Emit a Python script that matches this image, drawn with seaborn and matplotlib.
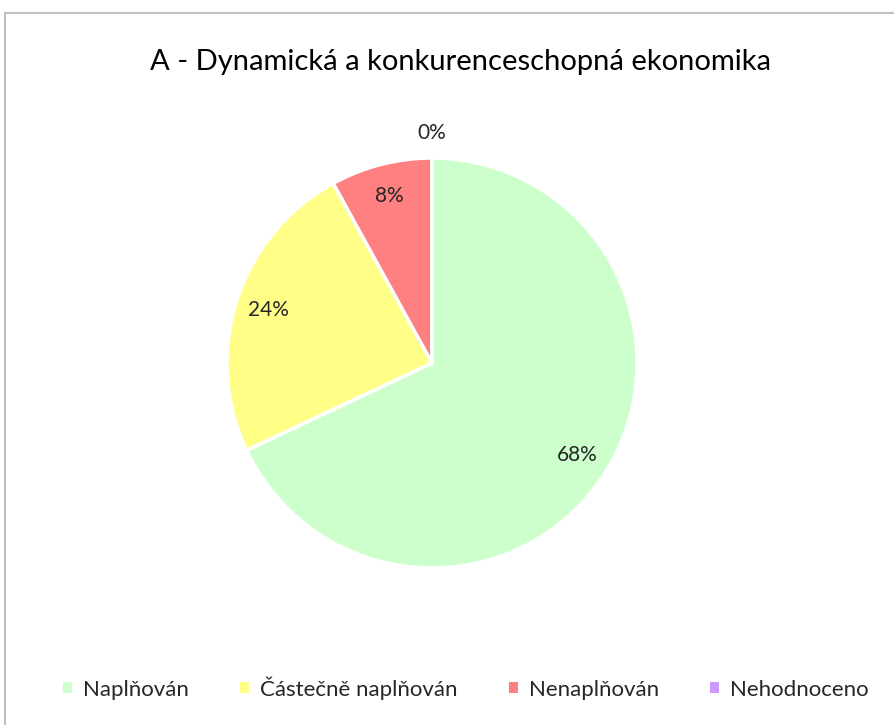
import matplotlib
matplotlib.use("Agg")
import matplotlib.pyplot as plt
import seaborn as sns
from matplotlib.patches import Rectangle
import numpy as np

categories = ["Naplňován", "Částečně naplňován", "Nenaplňován", "Nehodnoceno"]
values = [68, 24, 8, 0]
colors = ["#ccffcc", "#ffff88", "#ff8080", "#cc99ff"]
title = "A - Dynamická a konkurenceschopná ekonomika"

sns.set_theme(style="white")
plt.rcParams["font.family"] = ["Lato", "DejaVu Sans"]

W, H = 894, 725
fig = plt.figure(figsize=(W / 100, H / 100), dpi=100)
fig.patch.set_facecolor("white")

# chart border
fig.add_artist(Rectangle((4.5 / W, -0.1), 1.2, (H - 12.5) / H + 0.1,
                         transform=fig.transFigure, fill=False,
                         edgecolor="#c0c0c0", linewidth=1.5))

cx, cy, r = 432, 363, 205
ax = fig.add_axes([(cx - r) / W, (H - cy - r) / H, 2 * r / W, 2 * r / H])
wedges, texts, autotexts = ax.pie(
    values, colors=colors, startangle=90, counterclock=False, radius=1,
    autopct=lambda p: f"{p:.0f}%", pctdistance=0.84,
    wedgeprops=dict(edgecolor="white", linewidth=2.5),
    textprops=dict(fontsize=15, color="#262626"))
ax.set_xlim(-1, 1)
ax.set_ylim(-1, 1)
ax.set_aspect("equal")
ax.axis("off")

# move label of the zero slice outside
for w, t, v in zip(wedges, autotexts, values):
    if v == 0:
        ang = np.deg2rad((w.theta1 + w.theta2) / 2)
        t.set_position((1.12 * np.cos(ang), 1.12 * np.sin(ang)))

fig.text(460 / W, 1 - 62 / H, title, ha="center", va="center",
         fontsize=21, color="#000000")

handles = [Rectangle((0, 0), 1, 1, facecolor=c, edgecolor="none") for c in colors]
fig.legend(handles, categories, loc="center", bbox_to_anchor=(466 / W, 1 - 688 / H),
           ncol=4, frameon=False, fontsize=16, handlelength=0.4, handleheight=0.4,
           handletextpad=0.5, columnspacing=2.3, labelcolor="#262626")

fig.savefig("out.png", dpi=100)
